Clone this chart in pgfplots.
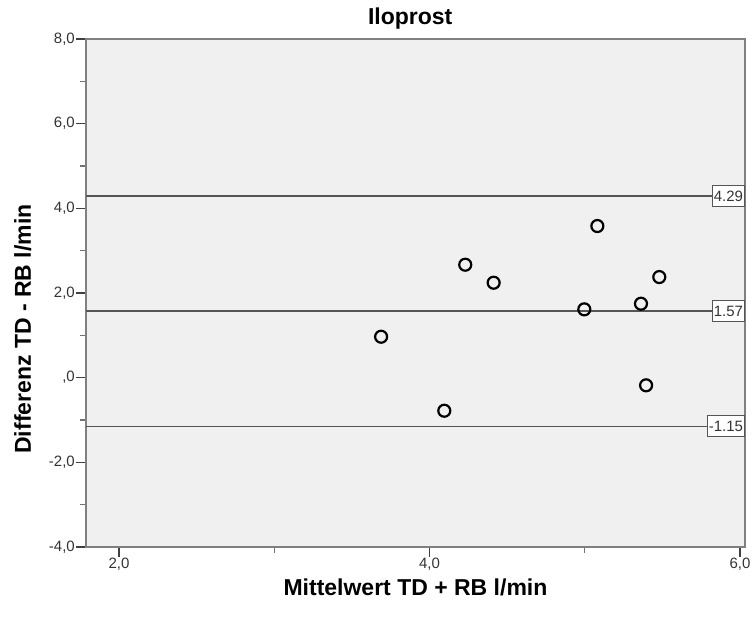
\documentclass[border=0pt]{standalone}
\usepackage{fontspec}
\setmainfont{Liberation Sans}
\usepackage{pgfplots}
\pgfplotsset{compat=1.18}
\definecolor{plotbg}{HTML}{F0F0F0}
\definecolor{refline}{HTML}{555555}
\begin{document}
\begin{tikzpicture}
\begin{axis}[
  scale only axis,
  width=659pt, height=508pt,
  xmin=1.787, xmax=6.032,
  ymin=-4, ymax=8,
  axis background/.style={fill=plotbg},
  axis line style={draw=black!50, line width=1.4pt},
  xtick={2,4,6}, xticklabels={{2,0},{4,0},{6,0}},
  minor xtick={3,5},
  ytick={-4,-2,0,2,4,6,8},
  yticklabels={{-4,0},{-2,0},{,0},{2,0},{4,0},{6,0},{8,0}},
  minor ytick={-3,-1,1,3,5,7},
  tick align=outside, tick pos=left,
  major tick length=10pt, minor tick length=6pt,
  major tick style={draw=black!75, line width=1.5pt},
  minor tick style={draw=black!55, line width=1.2pt},
  tick label style={font=\fontsize{15}{17}\selectfont, text=black!80, inner sep=1pt},
  title={Iloprost},
  title style={font=\fontsize{23}{27}\selectfont\bfseries,
    at={(axis description cs:0.492,1.0177)}, anchor=base},
  xlabel={Mittelwert TD + RB l/min},
  xlabel style={font=\fontsize{23}{27}\selectfont\bfseries,
    at={(axis description cs:0.5,-0.0945)}, anchor=base},
  ylabel={Differenz TD - RB l/min},
  ylabel style={font=\fontsize{23}{27}\selectfont\bfseries,
    at={(axis description cs:-0.0835,0.429)}, anchor=base, rotate=0},
  clip=false,
]
% page margins as in the reference
\path[draw=none] (axis description cs:-0.1305,-0.1417) rectangle (axis description cs:1.0152,1.0768);
% limits of agreement and mean difference
\addplot[refline, line width=1.6pt] coordinates {(1.787,4.29) (6.032,4.29)}
  node[pos=1, anchor=east, draw=refline, fill=white, line width=1pt,
       font=\fontsize{15}{17}\selectfont, text=black!80, inner sep=1.5pt,
       minimum height=21pt] {4.29};
\addplot[refline, line width=1.6pt] coordinates {(1.787,1.57) (6.032,1.57)}
  node[pos=1, anchor=east, draw=refline, fill=white, line width=1pt,
       font=\fontsize{15}{17}\selectfont, text=black!80, inner sep=1.5pt,
       minimum height=21pt] {1.57};
\addplot[refline, line width=1.6pt] coordinates {(1.787,-1.15) (6.032,-1.15)}
  node[pos=1, anchor=east, draw=refline, fill=white, line width=1pt,
       font=\fontsize{15}{17}\selectfont, text=black!80, inner sep=1.5pt,
       minimum height=21pt] {-1.15};
\addplot[only marks, mark=o, mark size=6pt, black, line width=2.2pt] coordinates {
  (3.688,0.967)
  (4.095,-0.781)
  (4.230,2.668)
  (4.413,2.243)
  (4.997,1.614)
  (5.081,3.582)
  (5.362,1.747)
  (5.480,2.377)
  (5.395,-0.181)
};
\end{axis}
\end{tikzpicture}
\end{document}
